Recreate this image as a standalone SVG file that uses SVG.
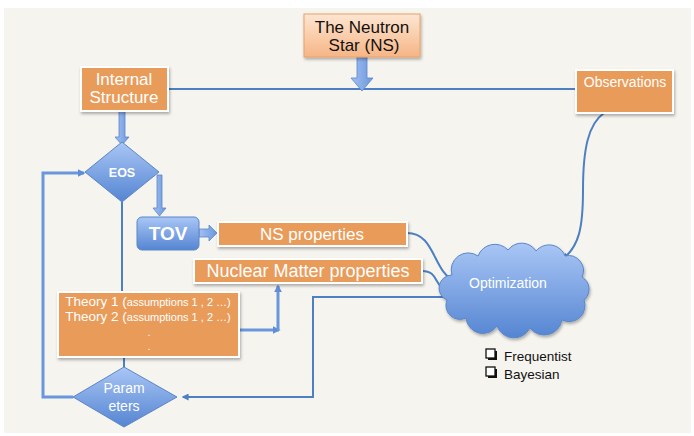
<svg xmlns="http://www.w3.org/2000/svg" width="694" height="436" viewBox="0 0 694 436">
<defs>
<style>
.t{font-family:"Liberation Sans",Arial,sans-serif;fill:#fff;text-anchor:middle}
.k{font-family:"Liberation Sans",Arial,sans-serif;fill:#111}
.box{fill:#e99b5a;stroke:#fff;stroke-width:2;filter:url(#sh)}
.blue{fill:url(#bg);stroke:#5a86c8;stroke-width:1}
.ln{fill:none;stroke:#4d7fc3;stroke-width:2}
.thk{fill:none;stroke:#6a96dc;stroke-width:3}
.barrow{fill:url(#ag);stroke:#5a86c8;stroke-width:0.8}
</style>
<linearGradient id="bg" x1="0" y1="0" x2="0" y2="1">
<stop offset="0" stop-color="#a9c6f5"/><stop offset="1" stop-color="#5585d2"/>
</linearGradient>
<linearGradient id="ag" x1="0" y1="0" x2="1" y2="0">
<stop offset="0" stop-color="#a3c0f2"/><stop offset="1" stop-color="#6b97de"/>
</linearGradient>
<linearGradient id="pg" x1="0" y1="0" x2="0" y2="1">
<stop offset="0" stop-color="#fde6d2"/><stop offset="1" stop-color="#f6b585"/>
</linearGradient>
<filter id="sh" x="-10%" y="-10%" width="130%" height="140%">
<feDropShadow dx="1" dy="2" stdDeviation="1.5" flood-color="#000" flood-opacity="0.3"/>
</filter>
<marker id="ah" viewBox="0 0 10 10" refX="8" refY="5" markerWidth="7" markerHeight="7" orient="auto" markerUnits="userSpaceOnUse">
<path d="M0,0 L10,5 L0,10 Z" fill="#4d7fc3"/>
</marker>
<marker id="ah2" viewBox="0 0 10 10" refX="8" refY="5" markerWidth="8" markerHeight="8" orient="auto" markerUnits="userSpaceOnUse">
<path d="M0,0 L10,5 L0,10 Z" fill="#5f8ed8"/>
</marker>
</defs>
<rect width="694" height="436" fill="#fff"/>
<rect x="4" y="8" width="687" height="425" fill="#f5f4ef"/>

<g id="connectors">
<line class="ln" x1="168" y1="89" x2="575" y2="89"/>
<polygon class="barrow" points="357,57 367,57 367,78 373,78 362,91 351,78 357,78"/>
<polygon class="barrow" points="119,111 125,111 125,137 129,137 122,145 115,137 119,137"/>
<polygon class="barrow" points="157,175 162,175 162,208 166,208 159.5,216 153,208 157,208"/>
<polygon class="barrow" points="199,229 209,229 209,225 217,233 209,241 209,237 199,237"/>
<line class="ln" x1="122" y1="202" x2="122" y2="292"/>
<line class="ln" x1="124" y1="357" x2="124" y2="367"/>
<polyline class="thk" points="73,397 43,397 43,173 84,173" marker-end="url(#ah2)"/>
<line class="thk" x1="239" y1="330" x2="279" y2="330" marker-end="url(#ah2)"/>
<line class="thk" x1="278" y1="330" x2="278" y2="286" marker-end="url(#ah2)"/>
<polyline class="ln" points="447,297 313,297 313,397 183,397" marker-end="url(#ah)"/>
<path class="ln" d="M407,233 C436,233 432,272 456,282" marker-end="url(#ah)"/>
<path class="ln" d="M422,271 C442,271 430,291 456,291" marker-end="url(#ah)"/>
<path class="ln" d="M604,113 C588,124 583,150 583,190 C583,228 579,246 563,259" marker-end="url(#ah)"/>
</g>

<g id="neutron-star">
<rect x="304" y="14" width="116" height="43" fill="url(#pg)" stroke="#eba06a" stroke-width="1" filter="url(#sh)"/>
<text class="k" x="362" y="33" font-size="17" text-anchor="middle">The Neutron</text>
<text class="k" x="364" y="51" font-size="17" text-anchor="middle">Star (NS)</text>
</g>

<g id="internal-structure">
<rect class="box" x="81" y="67" width="87" height="44"/>
<text class="t" x="124" y="85" font-size="17">Internal</text>
<text class="t" x="124" y="103" font-size="17">Structure</text>
</g>

<g id="observations">
<rect class="box" x="576" y="70" width="97" height="43"/>
<text class="t" x="625" y="87" font-size="14">Observations</text>
</g>

<g id="eos">
<polygon class="blue" points="122,142 159,172 122,202 85,172"/>
<text class="t" x="122" y="177" font-size="12.5" font-weight="bold">EOS</text>
</g>

<g id="tov">
<rect class="blue" x="137" y="217" width="62" height="33" rx="5"/>
<text class="t" x="168" y="240" font-size="19" font-weight="bold">TOV</text>
</g>

<g id="ns-properties">
<rect class="box" x="218" y="222" width="189" height="24"/>
<text class="t" x="312" y="240" font-size="17">NS properties</text>
</g>

<g id="nm-properties">
<rect class="box" x="194" y="259" width="228" height="24"/>
<text class="t" x="308" y="277" font-size="18">Nuclear Matter properties</text>
</g>

<g id="theory">
<rect class="box" x="58" y="292" width="181" height="65"/>
<text class="t" x="148" y="306" font-size="13.5">Theory 1 (<tspan font-size="11">assumptions 1 , 2 …)</tspan></text>
<text class="t" x="148" y="321" font-size="13.5">Theory 2 (<tspan font-size="11">assumptions 1 , 2 …)</tspan></text>
<text class="t" x="149" y="336" font-size="11">.</text>
<text class="t" x="149" y="350" font-size="11">.</text>
</g>

<g id="parameters">
<polygon class="blue" points="124,367 177,397 124,427 73,397"/>
<text class="t" x="124" y="393" font-size="14">Param</text>
<text class="t" x="124" y="411" font-size="14">eters</text>
</g>

<g id="optimization">
<path class="blue" filter="url(#sh)" d="M452,275 A17,17 0 0 1 478,256 A18,18 0 0 1 508,250 A17,17 0 0 1 536,251 A17,17 0 0 1 565,256 A15,15 0 0 1 582,277 A14,14 0 0 1 584,300 A16,16 0 0 1 562,320 A18,18 0 0 1 530,328 A18,18 0 0 1 497,326 A17,17 0 0 1 466,318 A14,14 0 0 1 447,300 A13,13 0 0 1 452,275 Z"/>
<text class="t" x="508" y="288" font-size="14">Optimization</text>
</g>

<g id="methods">
<rect x="488" y="351" width="9" height="9" fill="#111"/>
<rect x="486" y="349" width="9" height="9" fill="#fff" stroke="#111" stroke-width="1.3"/>
<text class="k" x="504" y="361" font-size="13.5">Frequentist</text>
<rect x="488" y="369" width="9" height="9" fill="#111"/>
<rect x="486" y="367" width="9" height="9" fill="#fff" stroke="#111" stroke-width="1.3"/>
<text class="k" x="504" y="379" font-size="13.5">Bayesian</text>
</g>
</svg>
